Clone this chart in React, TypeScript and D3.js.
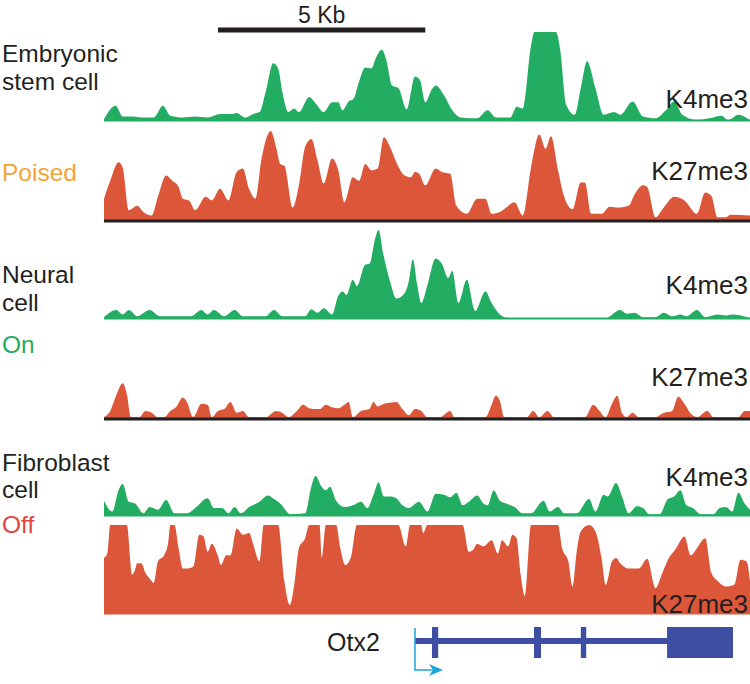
import React from "react";
import * as d3 from "d3";

// positions in kb, values in relative signal (0-100, clipped)
const escK4: [number, number][] = [
  [0, 2], [0.28, 17], [0.45, 5], [0.7, 5], [0.9, 4], [1.2, 4], [1.42, 17], [1.6, 6], [1.9, 4], [2.2, 5], [2.5, 4],
  [2.8, 8], [3.1, 8], [3.2, 9], [3.4, 4], [3.6, 8], [3.75, 10], [3.9, 33], [4.08, 65], [4.2, 59], [4.3, 33], [4.45, 10],
  [4.58, 14], [4.7, 10], [4.95, 27], [5.1, 20], [5.3, 10], [5.5, 21], [5.65, 21], [5.75, 12], [5.9, 22], [6.02, 25],
  [6.15, 44], [6.3, 60], [6.45, 59], [6.55, 70], [6.7, 80], [6.8, 70], [6.95, 40], [7.1, 37], [7.3, 13], [7.5, 50],
  [7.62, 46], [7.75, 21], [7.9, 35], [8.0, 40], [8.2, 29], [8.4, 12], [8.6, 4], [9.0, 3], [9.25, 12], [9.45, 4],
  [9.8, 4], [9.95, 16], [10.1, 14], [10.3, 85], [10.38, 100], [10.9, 100], [11.0, 81], [11.15, 18], [11.35, 7],
  [11.5, 37], [11.65, 67], [11.85, 37], [12.05, 7], [12.3, 10], [12.45, 7], [12.75, 22], [13.0, 5], [13.3, 3],
  [13.55, 12], [13.75, 22], [13.95, 7], [14.3, 1], [14.6, 3], [14.9, 6], [15.05, 1], [15.3, 7], [15.58, 1],
];

const escK27: [number, number][] = [
  [0, 24], [0.15, 44], [0.35, 65], [0.45, 59], [0.6, 11], [0.8, 16], [0.95, 9], [1.15, 5], [1.3, 26], [1.5, 50],
  [1.65, 44], [1.8, 37], [1.9, 24], [2.05, 22], [2.2, 11], [2.45, 26], [2.6, 22], [2.8, 35], [3.0, 22], [3.2, 54],
  [3.35, 58], [3.5, 35], [3.65, 24], [3.8, 69], [4.02, 100], [4.15, 82], [4.25, 63], [4.35, 61], [4.55, 14],
  [4.7, 39], [4.85, 82], [5.0, 91], [5.15, 67], [5.3, 41], [5.5, 69], [5.65, 56], [5.8, 20], [6.0, 48], [6.15, 44],
  [6.3, 63], [6.45, 56], [6.6, 58], [6.75, 93], [6.9, 82], [7.05, 65], [7.25, 50], [7.4, 48], [7.5, 54], [7.6, 52],
  [7.75, 39], [8.0, 58], [8.15, 54], [8.35, 52], [8.5, 16], [8.75, 7], [9.0, 24], [9.2, 24], [9.35, 7], [9.55, 9],
  [9.7, 14], [9.9, 20], [10.1, 5], [10.3, 59], [10.5, 96], [10.65, 80], [10.78, 94], [10.95, 56], [11.1, 26],
  [11.3, 12], [11.5, 42], [11.6, 42], [11.75, 7], [12.0, 7], [12.2, 15], [12.4, 14], [12.65, 16], [12.8, 29],
  [13.0, 39], [13.1, 37], [13.3, 3], [13.5, 14], [13.75, 26], [14.0, 22], [14.3, 7], [14.5, 31], [14.65, 27],
  [14.8, 3], [15.0, 3], [15.1, 6], [15.58, 5],
];

const neuK4: [number, number][] = [
  [0, 2], [0.3, 10], [0.45, 5], [0.6, 10], [0.8, 3], [1.1, 10], [1.35, 3], [2.1, 3], [2.35, 10], [2.5, 5],
  [2.65, 10], [2.9, 3], [3.15, 10], [3.35, 3], [3.9, 3], [4.1, 10], [4.3, 3], [4.85, 3], [5.0, 11], [5.15, 7],
  [5.3, 12], [5.5, 5], [5.65, 26], [5.75, 31], [5.85, 27], [6.0, 44], [6.1, 37], [6.3, 61], [6.4, 62], [6.55, 92],
  [6.62, 100], [6.75, 70], [6.9, 42], [7.05, 23], [7.25, 29], [7.35, 42], [7.45, 67], [7.55, 40], [7.65, 18],
  [7.8, 38], [8.0, 68], [8.15, 62], [8.3, 46], [8.4, 54], [8.55, 18], [8.75, 44], [8.95, 9], [9.2, 31],
  [9.35, 18], [9.55, 5], [9.75, 1], [12.1, 1], [12.45, 10], [12.6, 6], [12.8, 7], [13.0, 2], [13.3, 2], [13.5, 7],
  [13.7, 3], [13.9, 5], [14.05, 3], [14.3, 10], [14.5, 2], [14.8, 5], [15.0, 4], [15.15, 5], [15.58, 1],
];

const neuK27: [number, number][] = [
  [0, 1], [0.15, 8], [0.3, 26], [0.45, 39], [0.55, 27], [0.65, 1], [0.85, 1], [1.0, 8], [1.15, 6], [1.3, 1],
  [1.45, 1], [1.6, 8], [1.75, 13], [1.9, 23], [2.0, 18], [2.15, 1], [2.35, 16], [2.5, 15], [2.6, 1], [2.75, 8],
  [2.9, 10], [3.05, 18], [3.2, 6], [3.35, 8], [3.5, 1], [3.9, 1], [4.15, 8], [4.3, 6], [4.45, 1], [4.65, 8],
  [4.8, 15], [4.95, 11], [5.1, 10], [5.2, 10], [5.35, 15], [5.5, 12], [5.65, 11], [5.8, 15], [5.9, 18], [6.0, 1],
  [6.2, 8], [6.4, 10], [6.5, 18], [6.6, 13], [6.75, 16], [6.9, 17], [7.05, 18], [7.2, 10], [7.35, 3], [7.5, 10],
  [7.65, 8], [7.8, 1], [8.1, 1], [8.35, 8], [8.45, 1], [9.2, 1], [9.35, 15], [9.45, 25], [9.55, 19], [9.65, 1],
  [10.2, 1], [10.35, 8], [10.5, 1], [10.7, 8], [10.85, 1], [11.6, 1], [11.8, 15], [11.95, 8], [12.1, 1],
  [12.25, 16], [12.38, 25], [12.5, 5], [12.6, 1], [12.75, 6], [12.9, 1], [13.3, 1], [13.5, 6], [13.7, 8],
  [13.85, 24], [14.0, 16], [14.15, 5], [14.3, 1], [14.55, 8], [14.7, 1], [15.3, 1], [15.45, 8], [15.58, 8],
];

const fibK4: [number, number][] = [
  [0, 17], [0.2, 5], [0.35, 29], [0.45, 36], [0.6, 16], [0.75, 14], [0.95, 3], [1.1, 10], [1.3, 7], [1.5, 18],
  [1.7, 3], [2.0, 3], [2.2, 9], [2.5, 20], [2.65, 9], [2.85, 9], [3.0, 3], [3.15, 10], [3.3, 3], [3.5, 10],
  [3.75, 16], [3.95, 23], [4.1, 19], [4.25, 14], [4.5, 2], [4.85, 3], [5.0, 33], [5.1, 45], [5.25, 33], [5.35, 29],
  [5.45, 33], [5.6, 17], [5.8, 10], [6.0, 12], [6.2, 16], [6.35, 9], [6.5, 24], [6.62, 38], [6.75, 22], [6.9, 22],
  [7.05, 20], [7.2, 12], [7.35, 9], [7.6, 16], [7.8, 5], [8.0, 25], [8.2, 24], [8.35, 21], [8.5, 26], [8.65, 12],
  [8.8, 16], [9.0, 23], [9.15, 14], [9.25, 12], [9.4, 29], [9.55, 17], [9.7, 14], [9.9, 10], [10.1, 3], [10.3, 3],
  [10.6, 17], [10.75, 5], [10.95, 10], [11.1, 3], [11.4, 3], [11.7, 19], [11.85, 5], [12.05, 24], [12.15, 22],
  [12.35, 37], [12.5, 21], [12.65, 3], [12.85, 11], [13.0, 9], [13.15, 2], [13.4, 2], [13.6, 19], [13.75, 22],
  [13.9, 29], [14.05, 12], [14.2, 9], [14.4, 2], [14.7, 2], [14.85, 9], [15.0, 10], [15.15, 5], [15.3, 26],
  [15.45, 14], [15.58, 7],
];

const fibK27: [number, number][] = [
  [0, 63], [0.08, 68], [0.15, 100], [0.55, 100], [0.68, 44], [0.75, 50], [0.8, 57], [0.9, 57], [1.0, 46], [1.1, 40],
  [1.2, 35], [1.3, 59], [1.45, 66], [1.55, 81], [1.6, 100], [1.7, 100], [1.8, 74], [1.9, 51], [2.0, 51], [2.15, 53],
  [2.3, 89], [2.4, 87], [2.5, 70], [2.6, 79], [2.75, 65], [2.82, 55], [2.95, 66], [3.05, 66], [3.2, 96], [3.35, 89],
  [3.5, 91], [3.6, 78], [3.75, 59], [3.85, 100], [4.2, 100], [4.35, 37], [4.48, 10], [4.6, 37], [4.7, 74],
  [4.85, 85], [4.95, 100], [5.2, 100], [5.25, 63], [5.35, 100], [5.6, 100], [5.7, 74], [5.82, 55], [5.95, 63],
  [6.1, 100], [7.1, 100], [7.28, 76], [7.38, 100], [7.65, 100], [7.7, 91], [7.8, 100], [8.65, 100], [8.8, 70],
  [8.9, 72], [9.0, 79], [9.15, 76], [9.35, 83], [9.5, 68], [9.6, 83], [9.75, 76], [9.85, 89], [9.95, 85],
  [10.05, 44], [10.15, 20], [10.3, 100], [10.95, 100], [11.05, 74], [11.2, 59], [11.3, 31], [11.4, 70], [11.5, 93],
  [11.7, 100], [11.85, 93], [12.0, 63], [12.1, 33], [12.25, 59], [12.35, 63], [12.45, 57], [12.65, 51], [12.9, 51],
  [13.1, 62], [13.3, 29], [13.45, 44], [13.6, 61], [13.8, 74], [14.0, 87], [14.15, 66], [14.3, 74], [14.5, 85],
  [14.65, 46], [14.8, 37], [15.0, 31], [15.2, 33], [15.35, 61], [15.5, 59], [15.58, 37],
];

const GENOME_KB = 15.58;
const scaleBar = { start: 2.75, length: 5, label: "5 Kb" };
const geneName = "Otx2";
const geneSpan: [number, number] = [7.5, 15.17];
const geneExons: [number, number][] = [[7.91, 8.06], [10.37, 10.54], [11.5, 11.63], [13.58, 15.17]];

const GREEN = "#23ad62";
const RED = "#dc573a";
const INK = "#231f20";

const tracks = [
  { data: escK4, color: GREEN, base: 121, mark: "K4me3", markY: 108, axis: GREEN },
  { data: escK27, color: RED, base: 220, mark: "K27me3", markY: 180, axis: INK },
  { data: neuK4, color: GREEN, base: 319, mark: "K4me3", markY: 294, axis: GREEN },
  { data: neuK27, color: RED, base: 418, mark: "K27me3", markY: 386, axis: INK },
  { data: fibK4, color: GREEN, base: 516, mark: "K4me3", markY: 486, axis: GREEN },
  { data: fibK27, color: RED, base: 614, mark: "K27me3", markY: 613, axis: RED },
];

const leftLabels = [
  { text: "Embryonic", y: 62, color: INK },
  { text: "stem cell", y: 90, color: INK },
  { text: "Poised", y: 181, color: "#f4a332" },
  { text: "Neural", y: 283, color: INK },
  { text: "cell", y: 311, color: INK },
  { text: "On", y: 353, color: "#22ad5f" },
  { text: "Fibroblast", y: 471, color: INK },
  { text: "cell", y: 498, color: INK },
  { text: "Off", y: 533, color: "#e2463f" },
];

const FONT = "'Liberation Sans', Arial, Helvetica, sans-serif";

export default function App() {
  const W = 750, H = 684;
  const x = d3.scaleLinear().domain([0, GENOME_KB]).range([104, 750]);
  const TRACK_H = 89;
  const g0 = x(geneSpan[0]);

  return (
    <svg width={W} height={H} style={{ position: "absolute", left: 0, top: 0, background: "#fff" }} fontFamily={FONT}>
      {/* scale bar */}
      <text x={x(scaleBar.start + scaleBar.length / 2)} y={23} fontSize={23} textAnchor="middle" fill={INK}>
        {scaleBar.label}
      </text>
      <rect x={x(scaleBar.start)} y={27.5} width={x(scaleBar.start + scaleBar.length) - x(scaleBar.start)} height={5} fill={INK} />

      {tracks.map((t, i) => {
        const y = d3.scaleLinear().domain([0, 100]).range([t.base, t.base - TRACK_H]).clamp(true);
        const area = d3.area<[number, number]>()
          .x((d) => x(d[0]))
          .y0(t.base)
          .y1((d) => y(d[1]))
          .curve(d3.curveMonotoneX);
        const black = t.axis === INK;
        return (
          <g key={i}>
            <path d={area(t.data) || ""} fill={t.color} />
            <rect x={104} y={black ? t.base - 0.5 : t.base - 1.5} width={646} height={black ? 3 : 2} fill={t.axis} />
            <text x={748} y={t.markY} fontSize={26} textAnchor="end" fill={INK}>{t.mark}</text>
          </g>
        );
      })}

      {leftLabels.map((l, i) => (
        <text key={i} x={2} y={l.y} fontSize={24.5} fill={l.color}>{l.text}</text>
      ))}

      {/* gene model */}
      <text x={327} y={651} fontSize={25} fill={INK}>{geneName}</text>
      <rect x={g0} y={638} width={x(geneSpan[1]) - g0} height={6} fill="#3d4ea3" />
      {geneExons.map((e, i) => (
        <rect key={i} x={x(e[0])} y={627} width={x(e[1]) - x(e[0])} height={31} fill="#3d4ea3" />
      ))}
      <path d={`M${g0},628 V670 H${g0 + 18}`} fill="none" stroke="#1ea5da" strokeWidth={1.5} />
      <path d={`M${g0 + 14},664 L${g0 + 28},670 L${g0 + 14},676 L${g0 + 18},670 Z`} fill="#1ea5da" />
    </svg>
  );
}
